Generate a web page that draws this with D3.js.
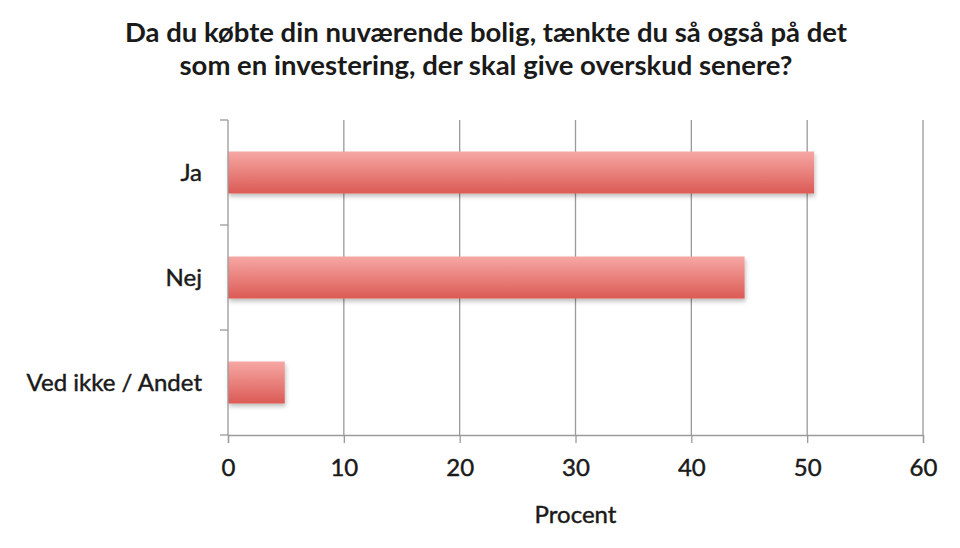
<!DOCTYPE html>
<html><head><meta charset="utf-8">
<script src="https://cdn.jsdelivr.net/npm/d3@7"></script>
<style>body{margin:0;background:#fff}svg{display:block}</style>
</head><body>
<script>
const categories = ["Ja", "Nej", "Ved ikke / Andet"];
const values = [50.6, 44.6, 4.9];
const xTicks = [0, 10, 20, 30, 40, 50, 60];
const titleLines = ["Da du købte din nuværende bolig, tænkte du så også på det", "som en investering, der skal give overskud senere?"];
const xLabel = "Procent";

const W = 960, H = 548;
const m = {left: 228, right: 37, top: 120, bottom: 113};
const svg = d3.select("body").append("svg").attr("width", W).attr("height", H);
const font = "Lato, 'Open Sans', sans-serif";
const txt = "#1a1a1a";

const defs = svg.append("defs");
const g1 = defs.append("linearGradient").attr("id","bg").attr("x1",0).attr("y1",0).attr("x2",0).attr("y2",1);
g1.append("stop").attr("offset","0%").attr("stop-color","#f6a8a4");
g1.append("stop").attr("offset","100%").attr("stop-color","#dc5a55");
const f = defs.append("filter").attr("id","sh").attr("x","-10%").attr("y","-20%").attr("width","120%").attr("height","160%");
f.append("feDropShadow").attr("dx",1).attr("dy",3).attr("stdDeviation",2).attr("flood-color","#000").attr("flood-opacity",0.25);

const x = d3.scaleLinear().domain([0, 60]).range([m.left, W - m.right]);
const y = d3.scaleBand().domain(categories).range([m.top, H - m.bottom]).paddingInner(0.6).paddingOuter(0.3);

// grid
svg.append("g").selectAll("line").data(xTicks.slice(1)).join("line")
  .attr("x1", d => x(d)).attr("x2", d => x(d))
  .attr("y1", m.top).attr("y2", H - m.bottom)
  .attr("stroke", "#9a9a9a").attr("stroke-width", 1.3);

// bars
svg.append("g").selectAll("rect").data(categories).join("rect")
  .attr("x", x(0)).attr("y", d => y(d))
  .attr("width", (d, i) => x(values[i]) - x(0))
  .attr("height", y.bandwidth())
  .attr("fill", "url(#bg)").attr("filter", "url(#sh)");

// x axis
const xa = svg.append("g").attr("transform", `translate(0,${H - m.bottom})`)
  .call(d3.axisBottom(x).tickValues(xTicks).tickSize(8).tickPadding(16));
xa.select(".domain").attr("stroke", "#9a9a9a").attr("stroke-width", 1.3);
xa.selectAll(".tick line").attr("stroke", "#9a9a9a").attr("stroke-width", 1.3);
xa.selectAll("text").attr("font-family", font).attr("font-size", 24).attr("fill", txt)
  .attr("stroke", txt).attr("stroke-width", 0.45);

// y axis
const yTickPos = d3.range(categories.length + 1).map(i => m.top + i * (H - m.bottom - m.top) / categories.length);
const ya = svg.append("g");
ya.append("line").attr("x1", x(0)).attr("x2", x(0)).attr("y1", m.top).attr("y2", H - m.bottom)
  .attr("stroke", "#9a9a9a").attr("stroke-width", 1.3);
ya.selectAll("line.t").data(yTickPos).join("line").attr("class","t")
  .attr("x1", x(0) - 8).attr("x2", x(0)).attr("y1", d => d).attr("y2", d => d)
  .attr("stroke", "#9a9a9a").attr("stroke-width", 1.3);
ya.selectAll("text").data(categories).join("text")
  .attr("x", x(0) - 26).attr("y", d => y(d) + y.bandwidth() / 2)
  .attr("dy", "0.35em").attr("text-anchor", "end")
  .attr("font-family", font).attr("font-size", 24).attr("fill", txt)
  .attr("stroke", txt).attr("stroke-width", 0.45).text(d => d);

// title
svg.append("g").selectAll("text").data(titleLines).join("text")
  .attr("x", 486).attr("y", (d, i) => 42 + i * 33)
  .attr("text-anchor", "middle").attr("font-family", font)
  .attr("font-weight", "bold").attr("font-size", 27.5).attr("fill", txt).text(d => d);

// x label
svg.append("text").attr("x", x(30)).attr("y", 523).attr("text-anchor", "middle")
  .attr("font-family", font).attr("font-size", 24).attr("fill", txt)
  .attr("stroke", txt).attr("stroke-width", 0.45).text(xLabel);
</script>
</body></html>
